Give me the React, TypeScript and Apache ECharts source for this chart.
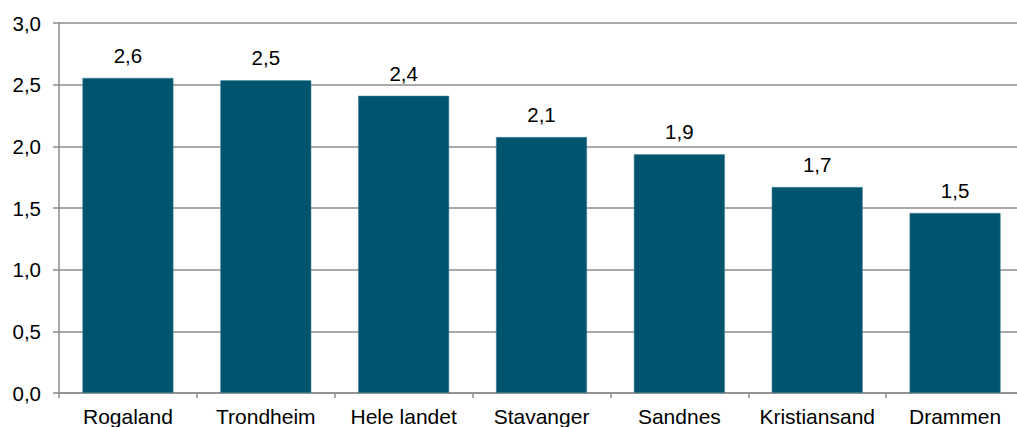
import React, { useEffect, useRef } from "react";
import * as echarts from "echarts";

const categories = ["Rogaland", "Trondheim", "Hele landet", "Stavanger", "Sandnes", "Kristiansand", "Drammen"];
const values = [2.555, 2.535, 2.41, 2.075, 1.935, 1.67, 1.46];
const yTicks = { min: 0, max: 3, interval: 0.5 };

export default function App() {
  const ref = useRef<HTMLDivElement>(null);
  useEffect(() => {
    const chart = echarts.init(ref.current!, null, { renderer: "svg" });
    const font = "'Liberation Sans', Arial, sans-serif";
    chart.setOption({
      animation: false,
      grid: { left: 59, right: 0, top: 23, bottom: 34, containLabel: false },
      xAxis: {
        type: "category",
        data: categories,
        axisLine: { lineStyle: { color: "#8c8c8c", width: 1.5 } },
        axisTick: { show: true, length: 5, alignWithLabel: false, lineStyle: { color: "#8c8c8c", width: 1.5 } },
        axisLabel: { color: "#000", fontSize: 21, fontFamily: font, margin: 13, interval: 0 },
      },
      yAxis: {
        type: "value",
        min: yTicks.min,
        max: yTicks.max,
        interval: yTicks.interval,
        axisLine: { show: true, lineStyle: { color: "#8c8c8c", width: 1.5 } },
        axisTick: { show: true, length: 6, lineStyle: { color: "#8c8c8c", width: 1.5 } },
        axisLabel: {
          color: "#000",
          fontSize: 20.5,
          fontFamily: font,
          margin: 18,
          formatter: (v: number) => v.toFixed(1).replace(".", ","),
        },
        splitLine: { show: true, lineStyle: { color: "#8c8c8c", width: 1.5 } },
      },
      series: [
        {
          type: "bar",
          data: values,
          barWidth: "66%",
          itemStyle: { color: "#00546e", borderColor: "#4d8aa0", borderWidth: 0.5 },
          label: {
            show: true,
            position: "top",
            distance: 12,
            color: "#000",
            fontSize: 20.5,
            fontFamily: font,
            formatter: (p: any) => (Number(p.value) + 1e-9).toFixed(1).replace(".", ","),
          },
        },
      ],
    });
    return () => chart.dispose();
  }, []);
  return (
    <div
      ref={ref}
      style={{ position: "fixed", left: 0, top: 0, width: 1024, height: 427, background: "#fff" }}
    />
  );
}
